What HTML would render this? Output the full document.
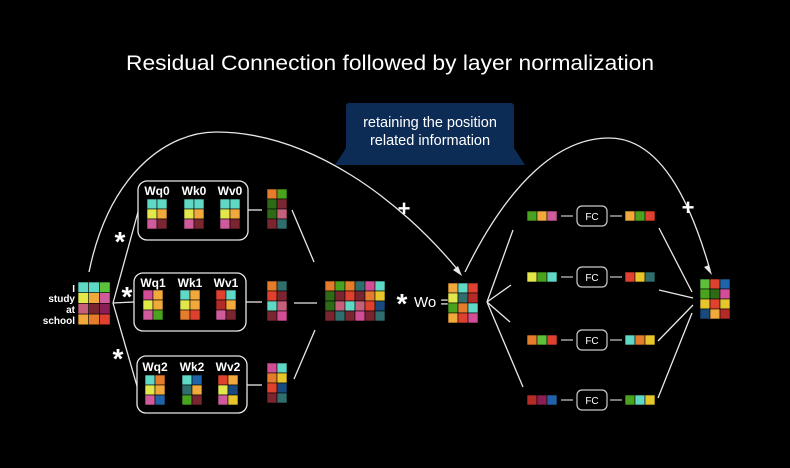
<!DOCTYPE html>
<html><head><meta charset="utf-8"><style>
html,body{margin:0;padding:0;background:#000;}
svg{display:block;font-family:"Liberation Sans",Arial,sans-serif;}
</style></head><body>
<svg id="s" width="790" height="468" viewBox="0 0 790 468" xmlns="http://www.w3.org/2000/svg">
<rect width="790" height="468" fill="#000"/>
<text x="390" y="70" fill="#fff" font-size="21" text-anchor="middle" textLength="528" lengthAdjust="spacingAndGlyphs">Residual Connection followed by layer normalization</text>
<polygon points="348,103 512,103 514,105 514,148 525,165 335,165 346,148 346,105" fill="#0d2c55"/>
<text x="430" y="127" fill="#fff" font-size="14.5" text-anchor="middle">retaining the position</text>
<text x="430" y="145" fill="#fff" font-size="14.5" text-anchor="middle">related information</text>
<g fill="none" stroke="#e8e8e8" stroke-width="1.3">
<path d="M89,272 C110,170 170,132 216,132 C310,132 400,200 458,270"/>
<path d="M465,272 C510,180 560,138 609,138 C660,138 690,200 710,270"/>
<line x1="113" y1="303" x2="138" y2="212"/><line x1="113" y1="303" x2="134" y2="302"/><line x1="113" y1="303" x2="137" y2="386"/>
<line x1="248" y1="210" x2="262" y2="210"/><line x1="246" y1="302" x2="262" y2="302"/><line x1="247" y1="385" x2="262" y2="385"/>
<line x1="292" y1="210" x2="314" y2="262"/><line x1="294" y1="303" x2="317" y2="303"/><line x1="315" y1="330" x2="294" y2="379"/>
<line x1="487" y1="302" x2="513" y2="230"/><line x1="487" y1="302" x2="511" y2="285"/><line x1="487" y1="302" x2="510" y2="322"/><line x1="487" y1="302" x2="523" y2="387"/>
<line x1="659" y1="228" x2="692" y2="292"/><line x1="659" y1="290" x2="693" y2="298"/><line x1="658" y1="341" x2="693" y2="305"/><line x1="658" y1="398" x2="692" y2="313"/>
<rect x="138" y="181" width="110" height="59" rx="9"/>
<rect x="134" y="273" width="112" height="58" rx="9"/>
<rect x="137" y="356" width="110" height="57" rx="9"/>
</g>
<polygon points="462,276 453,270 458,266" fill="#e8e8e8"/>
<polygon points="712,275 704,267 709,265" fill="#e8e8e8"/>
<g fill="#fff" font-weight="bold" font-size="12" text-anchor="middle">
<text x="157" y="195">Wq0</text><text x="194" y="195">Wk0</text><text x="230" y="195">Wv0</text>
<text x="153" y="287">Wq1</text><text x="190" y="287">Wk1</text><text x="226" y="287">Wv1</text>
<text x="155" y="371">Wq2</text><text x="192" y="371">Wk2</text><text x="228" y="371">Wv2</text>
</g>
<g fill="#fff" font-weight="bold" font-size="10" text-anchor="end">
<text x="75" y="292">I</text><text x="75" y="302">study</text><text x="75" y="313">at</text><text x="75" y="324">school</text>
</g>
<g fill="#fff" font-size="28" font-weight="bold" text-anchor="middle">
<text x="120" y="251">*</text><text x="127" y="306">*</text><text x="118" y="368">*</text><text x="402" y="313">*</text>
</g>
<text x="404" y="216" fill="#fff" font-size="22" font-weight="bold" text-anchor="middle">+</text>
<text x="688" y="215" fill="#fff" font-size="22" font-weight="bold" text-anchor="middle">+</text>
<text x="414" y="307" fill="#fff" font-size="15">Wo =</text>
<g id="fc" fill="none" stroke="#ccc" stroke-width="1.2"></g>
<g id="m"></g>
</svg>
<script>
var C={t:"#5fd8c6",y:"#e3e84a",o:"#f2a93b",p:"#cf5a9c",m:"#7a2530",g:"#4aa31f",r:"#e0412f",R:"#b32a26",O:"#e57c2c",d:"#2f6b16",P:"#c55f7a",T:"#2f6e6c",b:"#1f64a8",B:"#184a80",Y:"#e6c62a",M:"#d24d95",G:"#5cc03a",k:"#8a1f55"};
var m=document.getElementById('m'),ns="http://www.w3.org/2000/svg";
function mat(x,y,rows,w,h){w=w||10;h=h||10;rows.forEach(function(r,i){for(var j=0;j<r.length;j++){var e=document.createElementNS(ns,'rect');e.setAttribute('x',x+j*w);e.setAttribute('y',y+i*h);e.setAttribute('width',w);e.setAttribute('height',h);e.setAttribute('fill',C[r[j]]);e.setAttribute('stroke','#000');e.setAttribute('stroke-width','0.6');m.appendChild(e);}});}
mat(78,282,["ttG","yop","Pmk","oOr"],10.7,10.7);
mat(147,199,["tt","yo","pm"]);mat(184,199,["tt","yo","pm"]);mat(220,199,["tt","yo","pm"]);
mat(143,290,["Mo","yo","pg"]);mat(180,290,["to","yo","Or"]);mat(216,290,["rt","Ro","pm"]);
mat(145,375,["tO","yo","pb"]);mat(182,375,["tb","To","gm"]);mat(218,375,["ro","yB","pY"]);
mat(267,189,["Og","dm","dP","mT"]);mat(267,281,["OT","rm","tP","mM"]);mat(267,363,["Mt","OY","rB","mT"]);
mat(325,281,["OgOTMt","dmrmOY","dPtPrB","mTmMmT"]);
mat(448,283,["otr","yTR","gOt","orM"]);
mat(700,279,["Grb","gdM","YrY","BoR"]);
var rows=[[216,"gop","ogr"],[277,"ygt","rYT"],[340,"OGr","tOY"],[400,"Rkb","gtY"]];
var fc=document.getElementById('fc');
rows.forEach(function(r){var y=r[0];mat(527,y-5,[r[1]]);mat(625,y-5,[r[2]]);
fc.insertAdjacentHTML('beforeend','<rect x="577" y="'+(y-10)+'" width="30" height="20" rx="5"/><line x1="561" y1="'+y+'" x2="573" y2="'+y+'"/><line x1="610" y1="'+y+'" x2="622" y2="'+y+'"/>');
document.getElementById('s').insertAdjacentHTML('beforeend','<text x="592" y="'+(y+4)+'" fill="#fff" font-size="10" text-anchor="middle" font-family="Liberation Sans, sans-serif">FC</text>');});
</script>
</body></html>
